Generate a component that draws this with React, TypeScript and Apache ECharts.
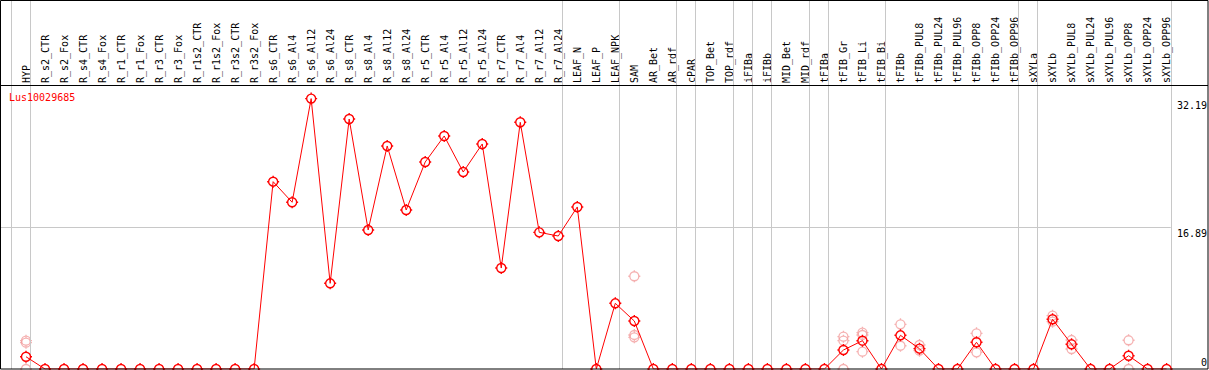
import React, { useEffect, useRef } from "react";
import * as echarts from "echarts";

const categories = [
  "HYP", "R_s2_CTR", "R_s2_Fox", "R_s4_CTR", "R_s4_Fox", "R_r1_CTR", "R_r1_Fox", "R_r3_CTR", "R_r3_Fox",
  "R_r1s2_CTR", "R_r1s2_Fox", "R_r3s2_CTR", "R_r3s2_Fox", "R_s6_CTR", "R_s6_Al4", "R_s6_Al12", "R_s6_Al24",
  "R_s8_CTR", "R_s8_Al4", "R_s8_Al12", "R_s8_Al24", "R_r5_CTR", "R_r5_Al4", "R_r5_Al12", "R_r5_Al24",
  "R_r7_CTR", "R_r7_Al4", "R_r7_Al12", "R_r7_Al24", "LEAF_N", "LEAF_P", "LEAF_NPK", "SAM", "AR_Bet", "AR_rdf",
  "cPAR", "TOP_Bet", "TOP_rdf", "iFIBa", "iFIBb", "MID_Bet", "MID_rdf", "tFIBa", "tFIB_Gr", "tFIB_Li", "tFIB_Bi",
  "tFIBb", "tFIBb_PUL8", "tFIBb_PUL24", "tFIBb_PUL96", "tFIBb_OPP8", "tFIBb_OPP24", "tFIBb_OPP96", "sXYLa",
  "sXYLb", "sXYLb_PUL8", "sXYLb_PUL24", "sXYLb_PUL96", "sXYLb_OPP8", "sXYLb_OPP24", "sXYLb_OPP96",
];

const meanValues = [
  1.46, 0, 0, 0, 0, 0, 0, 0, 0, 0, 0, 0, 0,
  22.3, 19.85, 32.19, 10.2, 29.76, 16.55, 26.55, 18.93, 24.64, 27.74, 23.45, 26.79, 12.02, 29.37, 16.27, 15.83,
  19.29, 0, 7.82, 5.71,
  0, 0, 0, 0, 0, 0, 0, 0, 0, 0,
  2.26, 3.37, 0, 4.01, 2.42, 0, 0, 3.18, 0, 0, 0, 5.92, 2.94, 0, 0, 1.58, 0, 0,
];

const replicateCategories = [
  "HYP", "HYP", "HYP", "SAM", "SAM", "SAM", "tFIB_Gr", "tFIB_Gr", "tFIB_Gr", "tFIB_Li", "tFIB_Li", "tFIB_Li",
  "tFIBb", "tFIBb", "tFIBb_PUL8", "tFIBb_PUL8", "tFIBb_OPP8", "tFIBb_OPP8", "sXYLb", "sXYLb",
  "sXYLb_PUL8", "sXYLb_PUL8", "sXYLb_OPP8", "sXYLb_OPP8",
];
const replicateValues = [
  3.37, 3.13, 0, 11.04, 4.05, 3.77, 3.85, 3.37, 0, 4.32, 4.05, 2.06,
  5.32, 2.77, 2.86, 2.18, 4.25, 1.99, 6.35, 5.63,
  3.45, 2.38, 3.42, 0,
];

const groupEnds = [
  "HYP", "R_r7_Al24", "LEAF_NPK", "AR_rdf", "cPAR", "TOP_rdf", "iFIBa", "iFIBb", "MID_rdf", "tFIBa",
  "tFIB_Bi", "tFIBb_OPP96", "sXYLa", "sXYLb_OPP96",
];

const yTickLabels = [0, 16.89, 32.19];
const referenceLine = 16.89;
const geneName = "Lus10029685";

// layout constants
const W = 1209;
const STEP = 19.01;
const FIRST_X = 26;
const ZERO_Y = 369;
const HEADER_Y = 85;
const PX_PER_UNIT = 8.4;
const SEP_OFFSET = 0.22;
const MONO = "'DejaVu Sans Mono', monospace";

const SYMBOL =
  "path://M2.5,10 C2.5,5.858 5.858,2.5 10,2.5 C14.142,2.5 17.5,5.858 17.5,10 C17.5,14.142 14.142,17.5 10,17.5 C5.858,17.5 2.5,14.142 2.5,10 Z " +
  "M10,0 L10,2.5 M10,17.5 L10,20 M0,10 L2.5,10 M17.5,10 L20,10";

export default function App() {
  const ref = useRef<HTMLDivElement>(null);

  useEffect(() => {
    if (!ref.current) return;
    const chart = echarts.init(ref.current, null, { renderer: "svg" });

    const xMin = -FIRST_X / STEP;
    const xMax = xMin + W / STEP;
    const boundaries = [-1, ...groupEnds.map((n) => categories.indexOf(n))].map((i) => i + SEP_OFFSET);
    const lastBoundary = boundaries[boundaries.length - 1];

    const option: any = {
      animation: false,
      title: {
        text: geneName,
        left: 9,
        top: 92,
        padding: 0,
        textStyle: { color: "#ff0000", fontSize: 10, fontWeight: "normal", fontFamily: MONO },
      },
      grid: [
        {
          left: FIRST_X - STEP / 2,
          width: STEP * categories.length,
          top: HEADER_Y,
          height: ZERO_Y - HEADER_Y,
          outerBoundsMode: "none",
          containLabel: false,
        },
        { left: 0, width: W, top: 0, height: ZERO_Y, outerBoundsMode: "none", containLabel: false },
      ],
      xAxis: [
        {
          gridIndex: 0,
          type: "category",
          data: categories,
          position: "top",
          boundaryGap: true,
          axisLine: { show: false },
          axisTick: { show: false },
          splitLine: { show: false },
          axisLabel: {
            rotate: 90,
            interval: 0,
            margin: 2,
            fontFamily: MONO,
            fontSize: 10,
            color: "#000",
          },
        },
        { gridIndex: 1, type: "value", min: xMin, max: xMax, show: false },
      ],
      yAxis: [
        { gridIndex: 0, type: "value", min: 0, max: (ZERO_Y - HEADER_Y) / PX_PER_UNIT, show: false },
        {
          gridIndex: 1,
          type: "value",
          min: 0,
          max: ZERO_Y / PX_PER_UNIT,
          position: "right",
          axisLine: { show: false },
          axisTick: { show: false },
          splitLine: { show: false },
          axisLabel: {
            inside: true,
            margin: 2,
            customValues: yTickLabels,
            fontFamily: MONO,
            fontSize: 10,
            color: "#000",
            lineHeight: 13,
            verticalAlign: "middle",
            formatter: (v: number) => (v === 0 ? "0\n " : " \n" + String(v)),
          },
        },
      ],
      series: [
        {
          type: "line",
          xAxisIndex: 1,
          yAxisIndex: 1,
          data: [],
          silent: true,
          markLine: {
            silent: true,
            symbol: "none",
            label: { show: false },
            lineStyle: { color: "#c8c8c8", width: 1, type: "solid" },
            data: [
              ...boundaries.map((b) => ({ xAxis: b })),
              [
                { coord: [xMin, referenceLine] },
                { coord: [lastBoundary, referenceLine] },
              ],
            ],
          },
        },
        {
          type: "scatter",
          xAxisIndex: 0,
          yAxisIndex: 0,
          silent: true,
          z: 3,
          symbol: SYMBOL,
          symbolSize: 12,
          itemStyle: { color: "rgba(0,0,0,0)", borderColor: "#f29c9c", borderWidth: 1.3 },
          data: replicateCategories.map((c, i) => [c, replicateValues[i]]),
        },
        {
          type: "line",
          xAxisIndex: 0,
          yAxisIndex: 0,
          silent: true,
          z: 5,
          symbol: SYMBOL,
          symbolSize: 12,
          showAllSymbol: true,
          lineStyle: { color: "#ff0000", width: 1 },
          itemStyle: { color: "rgba(0,0,0,0)", borderColor: "#ff0000", borderWidth: 1.4 },
          data: meanValues,
        },
      ],
      graphic: [
        {
          type: "rect",
          silent: true,
          z: 100,
          shape: { x: 0.5, y: 0.5, width: 1207.5, height: ZERO_Y - 0.5 },
          style: { fill: "none", stroke: "#000", lineWidth: 1 },
        },
        {
          type: "line",
          silent: true,
          z: 100,
          shape: { x1: 0, y1: HEADER_Y + 0.5, x2: 1208, y2: HEADER_Y + 0.5 },
          style: { stroke: "#000", lineWidth: 1 },
        },
      ],
    };

    chart.setOption(option);
    return () => chart.dispose();
  }, []);

  return (
    <div
      ref={ref}
      style={{ position: "fixed", left: 0, top: 0, width: W, height: 370, background: "#fff" }}
    />
  );
}
